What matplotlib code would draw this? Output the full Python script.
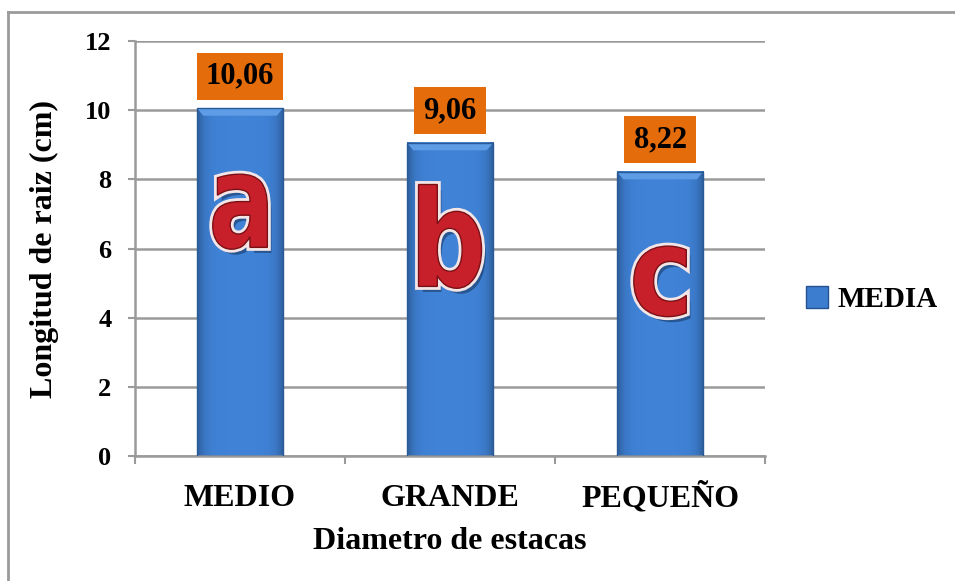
import numpy as np
import matplotlib.pyplot as plt
import matplotlib.patheffects as pe
from matplotlib.patches import Patch, PathPatch
from matplotlib.textpath import TextPath
from matplotlib.font_manager import FontProperties
from matplotlib.lines import Line2D
from matplotlib.transforms import Affine2D

plt.rcParams['font.family'] = ['Liberation Serif', 'DejaVu Serif']

categorias = ['MEDIO', 'GRANDE', 'PEQUEÑO']
media = [10.06, 9.06, 8.22]
etiquetas = ['10,06', '9,06', '8,22']
letras = ['a', 'b', 'c']
yticks = [0, 2, 4, 6, 8, 10, 12]

# caja de cada letra: (ancho en x, y inferior, y superior)
caja_letra = [(0.26, 5.98, 8.15), (0.30, 4.85, 7.85), (0.25, 4.03, 6.07)]

fig = plt.figure(figsize=(9.55, 5.81), dpi=100)
ax = fig.add_axes([0.1414, 0.2151, 0.6597, 0.7143])

gris = '#9a9a9a'
ancho = 0.41
x = np.arange(len(categorias))

# gradiente de la barra (bordes apenas mas oscuros)
n = 64
t = np.linspace(0, 1, n)
perfil = 1 - 0.28 * np.abs(2 * t - 1) ** 6
base = np.array([0.25, 0.51, 0.84])
grad = np.clip(perfil[None, :, None] * base[None, None, :], 0, 1)
grad = np.repeat(grad, 2, axis=0)

for i, v in enumerate(media):
    x0, x1 = i - ancho / 2, i + ancho / 2
    ax.imshow(grad, extent=[x0, x1, 0, v], aspect='auto', zorder=2,
              interpolation='bicubic')
    # bisel superior
    ax.fill([x0, x1, x1 - 0.03, x0 + 0.03], [v, v, v - 0.22, v - 0.22],
            color='#5e9de6', zorder=3, lw=0)
    ax.add_patch(plt.Rectangle((x0, 0), ancho, v, fill=False,
                               ec='#2a5a96', lw=1.0, zorder=4))
    ax.annotate(etiquetas[i], (i, v), xytext=(0, 23), textcoords='offset points',
                ha='center', va='center', fontsize=22, fontweight='bold',
                color='black', zorder=6,
                bbox=dict(boxstyle='square,pad=0.3', fc='#e46c0a', ec='none'))

    # letra de significancia
    tp = TextPath((0, 0), letras[i], size=1,
                  prop=FontProperties(family='DejaVu Sans', weight='bold'))
    ext = tp.get_extents()
    w, y0, y1 = caja_letra[i]
    tr = (Affine2D().translate(-(ext.x0 + ext.x1) / 2, -ext.y0)
          .scale(w / ext.width, (y1 - y0) / ext.height)
          .translate(i, y0))
    patch = PathPatch(tr.transform_path(tp), fc='#c8202a', ec='#7a1016',
                      lw=1.0, zorder=5)
    patch.set_path_effects([
        pe.SimplePatchShadow(offset=(3, -4), shadow_rgbFace='#0b2240', alpha=0.45),
        pe.Stroke(linewidth=5, foreground='#f4e6e6'),
        pe.Normal()])
    ax.add_patch(patch)

ax.set_xlim(-0.5, 2.5)
ax.set_ylim(0, 12)
ax.set_yticks(yticks)
ax.set_yticklabels([str(v) for v in yticks], fontsize=19, fontweight='bold')
ax.set_xticks(x)
ax.set_xticklabels(categorias, fontsize=23, fontweight='bold', va='baseline')
ax.set_xticks([-0.5, 0.5, 1.5, 2.5], minor=True)
ax.tick_params(axis='x', which='major', length=0, pad=36)
ax.tick_params(axis='x', which='minor', length=6, width=1.5, color=gris, direction='out')
ax.tick_params(axis='y', length=5, width=1.5, color=gris, pad=12)
ax.grid(axis='y', color=gris, lw=1.8, zorder=1)
ax.set_axisbelow(True)
for s in ['top', 'right']:
    ax.spines[s].set_visible(False)
for s in ['left', 'bottom']:
    ax.spines[s].set_color(gris)
    ax.spines[s].set_linewidth(1.8)

ax.set_xlabel('Diametro de estacas', fontsize=23, fontweight='bold', labelpad=10)
ax.set_ylabel('Longitud de raiz (cm)', fontsize=23, fontweight='bold', labelpad=19)

fig.legend(handles=[Patch(fc='#3d7dd0', ec='#24528f', label='MEDIA')],
           loc='center left', bbox_to_anchor=(0.817, 0.484), frameon=False,
           prop=dict(size=21, weight='bold'), handlelength=0.75, handleheight=0.75,
           handletextpad=0.3)

# marco del grafico
fig.add_artist(Line2D([8 / 955, 8 / 955], [0, 1 - 12 / 581], color=gris, lw=2))
fig.add_artist(Line2D([8 / 955, 1], [1 - 12 / 581, 1 - 12 / 581], color=gris, lw=2))

fig.savefig('out.png', dpi=100)
